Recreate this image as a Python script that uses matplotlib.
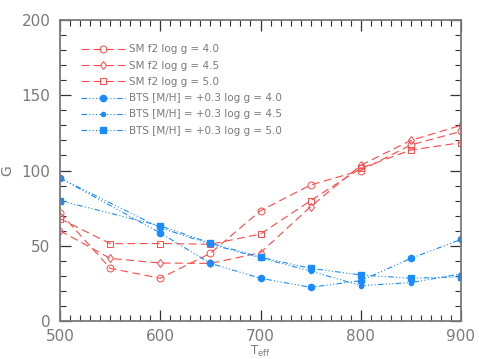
import numpy as np
import matplotlib
matplotlib.use("Agg")
import matplotlib.pyplot as plt
from matplotlib.legend_handler import HandlerLine2D
from matplotlib.ticker import MultipleLocator

teff = [500, 550, 600, 650, 700, 750, 800, 850, 900]
sm_g40 = [72, 35, 28.4, 45, 73.3, 90.4, 100, 117, 126]
sm_g45 = [60, 41.6, 38.5, 38.3, 45.4, 76, 103.5, 120, 130]
sm_g50 = [68, 51.4, 51.5, 51, 57.8, 80, 101.5, 113.6, 118.5]

bts_teff = [500, 600, 650, 700, 750, 800, 850, 900]
bts_g40 = [95, 58.5, 38.3, 28.4, 22.4, 26.8, 41.6, 54.2]
bts_g45 = [95, 62, 51, 42, 33.2, 23.5, 25.5, 31.3]
bts_g50 = [80, 63.2, 51.8, 42.4, 35, 30.6, 28.4, 29.4]

labels = ['SM f2 log g = 4.0', 'SM f2 log g = 4.5', 'SM f2 log g = 5.0',
          'BTS [M/H] = +0.3 log g = 4.0', 'BTS [M/H] = +0.3 log g = 4.5',
          'BTS [M/H] = +0.3 log g = 5.0']

RED = '#ff4848'
BLUE = '#1a8cff'
GRAY = '#7a7a7a'


class EndMarker(HandlerLine2D):
    # marker near the right end of the sample line, like the IDL legend
    def get_xdata(self, legend, xdescent, ydescent, width, height, fontsize):
        xdata = np.array([-xdescent, -xdescent + width])
        return xdata, np.array([-xdescent + width * 0.8])


fig = plt.figure(figsize=(4.79, 3.59), dpi=100)
ax = fig.add_axes([0.1253, 0.1058, 0.8371, 0.8385])

dash = (0, (7, 4))
dotdash = (0, (5, 2, 1, 2, 1, 2, 1, 2))
ax.plot(teff, sm_g40, color=RED, ls=dash, lw=0.8, marker='o', ms=5, mfc='none', mec=RED, mew=0.7, label=labels[0])
ax.plot(teff, sm_g45, color=RED, ls=dash, lw=0.8, marker='d', ms=4.5, mfc='none', mec=RED, mew=0.7, label=labels[1])
ax.plot(teff, sm_g50, color=RED, ls=dash, lw=0.8, marker='s', ms=5, mfc='none', mec=RED, mew=0.7, label=labels[2])
ax.plot(bts_teff, bts_g40, color=BLUE, ls=dotdash, lw=0.8, marker='o', ms=4.5, mec=BLUE, label=labels[3])
ax.plot(bts_teff, bts_g45, color=BLUE, ls=dotdash, lw=0.8, marker='o', ms=3, mec=BLUE, label=labels[4])
ax.plot(bts_teff, bts_g50, color=BLUE, ls=dotdash, lw=0.8, marker='s', ms=4.5, mec=BLUE, label=labels[5])

ax.set_xlim(500, 900)
ax.set_ylim(0, 200)
ax.xaxis.set_major_locator(MultipleLocator(100))
ax.xaxis.set_minor_locator(MultipleLocator(10))
ax.yaxis.set_major_locator(MultipleLocator(50))
ax.yaxis.set_minor_locator(MultipleLocator(10))
ax.tick_params(which='both', direction='in', top=True, right=True, color='#333333',
               labelcolor=GRAY, labelsize=11)
ax.tick_params(axis='x', which='both', pad=6)
ax.tick_params(axis='y', which='both', pad=7)
ax.tick_params(which='major', length=8, width=0.9)
ax.tick_params(which='minor', length=4, width=0.8)
for sp in ax.spines.values():
    sp.set_color(GRAY)
    sp.set_linewidth(1.3)

ax.set_xlabel(r'T$_{\rm eff}$', color=GRAY, fontsize=8.5, labelpad=0)
ax.set_ylabel('G', color=GRAY, fontsize=10, labelpad=5)

leg = ax.legend(loc='upper left', bbox_to_anchor=(0.03, 0.95), frameon=False, fontsize=7.5,
                handlelength=4.2, handletextpad=0.4, labelspacing=0.6, numpoints=1,
                handler_map={matplotlib.lines.Line2D: EndMarker()})
for t in leg.get_texts():
    t.set_color(GRAY)

fig.savefig('out.png', dpi=100)
